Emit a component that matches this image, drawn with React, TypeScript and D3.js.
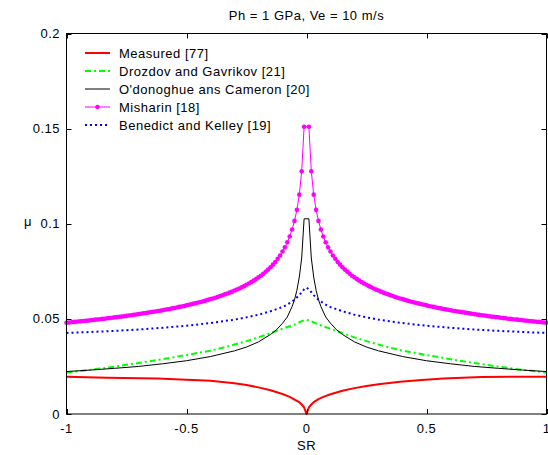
import React from "react";
import * as d3 from "d3";

const title = "Ph = 1 GPa, Ve = 10 m/s";
const xTicks = [-1, -0.5, 0, 0.5, 1];
const yTicks = [0, 0.05, 0.1, 0.15, 0.2];
const xTickLabels = ["-1", "-0.5", "0", "0.5", "1"];
const yTickLabels = ["0", "0.05", "0.1", "0.15", "0.2"];

// Measured (asymmetric) – SR and mu
const measuredSR = [-1, -0.83, -0.62, -0.5, -0.4, -0.3, -0.25, -0.2, -0.15, -0.1, -0.07, -0.05, -0.03, -0.02, -0.01, 0, 0.01, 0.02, 0.03, 0.05, 0.07, 0.1, 0.15, 0.2, 0.25, 0.3, 0.39, 0.48, 0.57, 0.73, 1];
const measuredMu = [0.0196, 0.0191, 0.0186, 0.018, 0.0175, 0.0162, 0.0152, 0.014, 0.0125, 0.0105, 0.009, 0.0076, 0.0062, 0.005, 0.0035, 0, 0.0035, 0.005, 0.0062, 0.0078, 0.009, 0.0104, 0.0122, 0.0136, 0.0147, 0.0156, 0.017, 0.0179, 0.0186, 0.0195, 0.0196];

// Symmetric series given for SR >= 0 (mirrored to negative SR)
const drozdovSR = [0, 0.02, 0.05, 0.1, 0.15, 0.2, 0.25, 0.3, 0.35, 0.4, 0.5, 0.6, 0.7, 0.8, 0.9, 1];
const drozdovMu = [0.0495, 0.0488, 0.047, 0.0448, 0.0425, 0.0403, 0.0383, 0.0365, 0.0348, 0.0333, 0.031, 0.0288, 0.0268, 0.0249, 0.0232, 0.0218];

const odonoghueSR = [0.01, 0.02, 0.03, 0.04, 0.05, 0.06, 0.08, 0.1, 0.125, 0.15, 0.2, 0.25, 0.3, 0.4, 0.5, 0.6, 0.7, 0.8, 0.9, 1];
const odonoghueMu = [0.1026, 0.082, 0.072, 0.065, 0.06, 0.0565, 0.051, 0.0477, 0.0443, 0.0418, 0.0379, 0.0352, 0.0332, 0.0302, 0.028, 0.0264, 0.025, 0.024, 0.0231, 0.0223];

const benedictSR = [0, 0.01, 0.02, 0.03, 0.05, 0.08, 0.1, 0.15, 0.2, 0.25, 0.3, 0.4, 0.5, 0.6, 0.7, 0.8, 0.9, 1];
const benedictMu = [0.0665, 0.0655, 0.064, 0.0625, 0.06, 0.0575, 0.0562, 0.054, 0.0522, 0.0508, 0.0496, 0.0478, 0.0464, 0.0453, 0.0444, 0.0437, 0.0431, 0.0426];

const misharinSR = d3.range(1, 101).map((i) => i / 100);
const misharinMu = [
  0.1510, 0.1276, 0.1153, 0.1073, 0.1015, 0.0970, 0.0933, 0.0903, 0.0876, 0.0854,
  0.0833, 0.0816, 0.0799, 0.0785, 0.0771, 0.0759, 0.0748, 0.0737, 0.0727, 0.0718,
  0.0709, 0.0701, 0.0693, 0.0686, 0.0679, 0.0672, 0.0666, 0.0660, 0.0654, 0.0649,
  0.0643, 0.0638, 0.0633, 0.0629, 0.0624, 0.0620, 0.0615, 0.0611, 0.0607, 0.0604,
  0.0600, 0.0596, 0.0593, 0.0589, 0.0586, 0.0583, 0.0580, 0.0577, 0.0574, 0.0571,
  0.0568, 0.0565, 0.0563, 0.0560, 0.0557, 0.0555, 0.0552, 0.0550, 0.0548, 0.0545,
  0.0543, 0.0541, 0.0539, 0.0537, 0.0535, 0.0533, 0.0531, 0.0529, 0.0527, 0.0525,
  0.0523, 0.0521, 0.0519, 0.0518, 0.0516, 0.0514, 0.0512, 0.0511, 0.0509, 0.0508,
  0.0506, 0.0504, 0.0503, 0.0501, 0.0500, 0.0498, 0.0497, 0.0496, 0.0494, 0.0493,
  0.0491, 0.0490, 0.0489, 0.0487, 0.0486, 0.0485, 0.0484, 0.0482, 0.0481, 0.0480,
];

const legendLabels = [
  "Measured [77]",
  "Drozdov and Gavrikov [21]",
  "O'donoghue ans Cameron [20]",
  "Misharin [18]",
  "Benedict and Kelley [19]",
];

type Pt = [number, number];

function mirror(sr: number[], mu: number[]): Pt[] {
  const right: Pt[] = sr.map((s, i) => [s, mu[i]]);
  const left: Pt[] = right
    .filter((p) => p[0] !== 0)
    .map((p) => [-p[0], p[1]] as Pt)
    .reverse();
  return [...left, ...right];
}

const W = 548;
const H = 455;
const FONT = "'Liberation Sans', Arial, Helvetica, sans-serif";
const FS = 13;
const LS = 0.5;

export default function App() {
  const x = d3.scaleLinear().domain([-1, 1]).range([66.5, 546.5]);
  const y = d3.scaleLinear().domain([0, 0.2]).range([414, 33.5]);
  const line = d3
    .line<Pt>()
    .x((d) => x(d[0]))
    .y((d) => y(d[1]));

  const measured: Pt[] = measuredSR.map((s, i) => [s, measuredMu[i]]);
  const drozdov = mirror(drozdovSR, drozdovMu);
  const odonoghue = mirror(odonoghueSR, odonoghueMu);
  const benedict = mirror(benedictSR, benedictMu);
  const misharin = mirror(misharinSR, misharinMu);

  const series = [
    { data: measured, color: "#ff0000", width: 2, dash: undefined as string | undefined, marker: false },
    { data: drozdov, color: "#00ff00", width: 2, dash: "6 3 2 3", marker: false },
    { data: odonoghue, color: "#000000", width: 1, dash: undefined, marker: false },
    { data: misharin, color: "#ff00ff", width: 1, dash: undefined, marker: true },
    { data: benedict, color: "#0000ff", width: 2, dash: "2 3", marker: false },
  ];

  const x0 = 66.5, x1 = 546.5, yTop = 33.5, yBot = 414;
  const tickLen = 5;

  return (
    <svg
      width={W}
      height={H}
      style={{ position: "absolute", left: 0, top: 0, background: "#fff" }}
      fontFamily={FONT}
      fontSize={FS}
      letterSpacing={LS}
    >
      <rect x={0} y={0} width={W} height={H} fill="#fff" />
      {/* data */}
      <g>
        {series.map((s, i) => (
          <g key={i}>
            <path
              d={line(s.data) || ""}
              fill="none"
              stroke={s.color}
              strokeWidth={s.width}
              strokeDasharray={s.dash}
              strokeLinejoin="round"
            />
            {s.marker &&
              s.data.map((p, j) => (
                <circle key={j} cx={x(p[0])} cy={y(p[1])} r={2.3} fill={s.color} />
              ))}
          </g>
        ))}
      </g>
      {/* axes box */}
      <rect x={x0} y={yTop} width={x1 - x0} height={yBot - yTop} fill="none" stroke="#000" strokeWidth={1} />
      {xTicks.map((t, i) => (
        <g key={"xt" + i}>
          <line x1={Math.round(x(t)) + 0.5} x2={Math.round(x(t)) + 0.5} y1={yBot} y2={yBot - tickLen} stroke="#000" />
          <line x1={Math.round(x(t)) + 0.5} x2={Math.round(x(t)) + 0.5} y1={yTop} y2={yTop + tickLen} stroke="#000" />
          <text x={x(t)} y={433} textAnchor="middle" fill="#000">
            {xTickLabels[i]}
          </text>
        </g>
      ))}
      {yTicks.map((t, i) => (
        <g key={"yt" + i}>
          <line x1={x0} x2={x0 + tickLen} y1={Math.round(y(t)) + 0.5} y2={Math.round(y(t)) + 0.5} stroke="#000" />
          <line x1={x1} x2={x1 - tickLen} y1={Math.round(y(t)) + 0.5} y2={Math.round(y(t)) + 0.5} stroke="#000" />
          <text x={60} y={y(t) + 4.5} textAnchor="end" fill="#000">
            {yTickLabels[i]}
          </text>
        </g>
      ))}
      {/* labels */}
      <text x={306.5} y={20} textAnchor="middle" fill="#000">
        {title}
      </text>
      <text x={306.5} y={450} textAnchor="middle" fill="#000">
        SR
      </text>
      <text x={28} y={226} textAnchor="middle" fill="#000">
        μ
      </text>
      {/* legend */}
      {series.map((s, i) => {
        const ly = 53 + i * 18;
        return (
          <g key={"lg" + i}>
            <line x1={85} x2={110} y1={ly} y2={ly} stroke={s.color} strokeWidth={s.width} strokeDasharray={s.dash} />
            {s.marker && <circle cx={97.5} cy={ly} r={2.3} fill={s.color} />}
            <text x={119} y={ly + 4.5} fill="#000">
              {legendLabels[i]}
            </text>
          </g>
        );
      })}
    </svg>
  );
}
